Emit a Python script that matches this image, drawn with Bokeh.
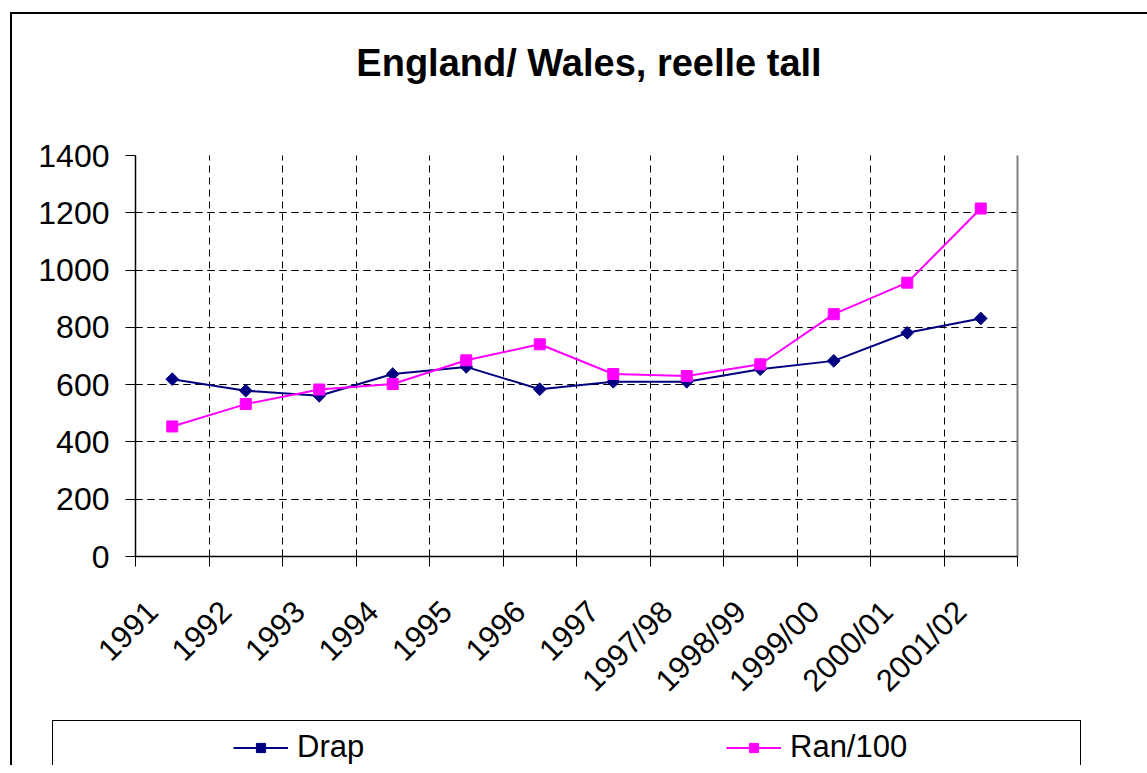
import math
from bokeh.plotting import figure
from bokeh.models import (FactorRange, Range1d, LinearAxis, FixedTicker, Grid, Legend,
                          LegendItem, ColumnDataSource, InlineStyleSheet, Label)
from bokeh.embed import file_html
from bokeh.resources import INLINE

categories = ["1991", "1992", "1993", "1994", "1995", "1996", "1997",
              "1997/98", "1998/99", "1999/00", "2000/01", "2001/02"]
drap = [619, 579, 561, 637, 662, 584, 610, 610, 654, 683, 781, 831]
ran_100 = [454, 532, 583, 602, 685, 741, 637, 630, 671, 846, 956, 1215]
y_ticks = [0, 200, 400, 600, 800, 1000, 1200, 1400]
series_names = ["Drap", "Ran/100"]
title_text = "England/ Wales, reelle tall"

FONT = "Liberation Sans"
NAVY = "#000080"
MAGENTA = "#FF00FF"
W, H = 1147, 765
PLOT_TOP, PLOT_BOTTOM, PLOT_LEFT, PLOT_RIGHT = 155, 556, 135, 1017
FRAME_LEFT = 5

# The frame covers (almost) the whole canvas so that the title, the rotated category
# labels and the legend, which lie outside the value area, are not clipped.  The axes
# are pinned to the edges of the value area with fixed_location / bounds.
n = len(categories)
y_lo, y_hi = y_ticks[0], y_ticks[-1]
px_per_unit = (PLOT_BOTTOM - PLOT_TOP) / (y_hi - y_lo)
y_start = y_lo - (H - PLOT_BOTTOM) / px_per_unit
y_end = y_hi + PLOT_TOP / px_per_unit
px_per_cat = (PLOT_RIGHT - PLOT_LEFT) / n
x_pad = (PLOT_LEFT - FRAME_LEFT) / px_per_cat

frame_css = InlineStyleSheet(css="""
:host { position: relative; }
:host::before { content: ""; position: absolute; left: 10px; top: 12px; right: 0; bottom: 0;
  border-left: 2px solid #000; border-top: 2px solid #000; z-index: 5; pointer-events: none; }
:host::after { content: ""; position: absolute; left: 52px; top: 720px; width: 1027px; bottom: 0;
  border-left: 1.5px solid #000; border-right: 1.5px solid #000; border-top: 1.5px solid #000;
  z-index: 5; pointer-events: none; }
""")

p = figure(width=W, height=H, title=None,
           x_range=FactorRange(factors=categories, range_padding=x_pad,
                               range_padding_units="absolute"),
           y_range=Range1d(y_start, y_end),
           output_backend="svg", toolbar_location=None,
           x_axis_location=None,
           min_border_left=FRAME_LEFT, min_border_right=0,
           min_border_top=0, min_border_bottom=0,
           stylesheets=[frame_css])
p.background_fill_color = "white"
p.border_fill_color = "white"
p.outline_line_color = None
for g in p.xgrid:
    g.visible = False

title = Label(x=(588.5 - FRAME_LEFT), y=(H - 62), x_units="screen", y_units="screen",
              text=title_text, text_align="center", text_baseline="alphabetic",
              text_font=FONT, text_font_style="bold", text_font_size="38px",
              text_color="black")
p.add_layout(title)

# category boundaries and label anchors in the factor range's synthetic coordinates
boundaries = list(range(n + 1))
label_pos = [i + 0.23 for i in range(n)]

x_axis = LinearAxis(ticker=FixedTicker(ticks=label_pos, minor_ticks=boundaries),
                    fixed_location=y_lo, bounds=(0, n),
                    major_label_overrides={t: c for t, c in zip(label_pos, categories)},
                    major_tick_out=0, major_tick_in=0,
                    minor_tick_out=10, minor_tick_in=0,
                    minor_tick_line_color="black", minor_tick_line_width=1,
                    axis_line_color="black", axis_line_width=1.5,
                    major_label_orientation=math.pi / 4,
                    major_label_standoff=40,
                    major_label_text_font=FONT,
                    major_label_text_font_size="31px",
                    major_label_text_color="black")
p.add_layout(x_axis, "below")

vgrid = Grid(dimension=0, ticker=FixedTicker(ticks=boundaries[1:-1]),
             cross_bounds=(y_lo, y_hi),
             grid_line_color="black", grid_line_dash="7 5", grid_line_width=1)
p.add_layout(vgrid)

# plot-area border (top and right), grey as in Excel; the top line sits a hair
# below the axis end so that the grid does not drop it as an end tick
top_edge = Grid(dimension=1, ticker=FixedTicker(ticks=[y_hi - 1e-6]),
                bounds=(y_start, y_end), cross_bounds=(0, n),
                grid_line_color="#808080", grid_line_width=2)
right_edge = Grid(dimension=0, ticker=FixedTicker(ticks=[n]), cross_bounds=(y_lo, y_hi),
                  grid_line_color="#808080", grid_line_width=2)
p.add_layout(top_edge)
p.add_layout(right_edge)

p.ygrid.ticker = FixedTicker(ticks=y_ticks[1:-1])
p.ygrid.cross_bounds = (0, n)
p.ygrid.grid_line_color = "black"
p.ygrid.grid_line_dash = "7 5"
p.ygrid.grid_line_width = 1

p.yaxis.fixed_location = 0
p.yaxis.bounds = (y_lo, y_hi)
p.yaxis.ticker = FixedTicker(ticks=y_ticks)
p.yaxis.major_tick_out = 10
p.yaxis.major_tick_in = 0
p.yaxis.minor_tick_out = 0
p.yaxis.minor_tick_in = 0
p.yaxis.axis_line_color = "black"
p.yaxis.axis_line_width = 1.5
p.yaxis.major_tick_line_color = "black"
p.yaxis.major_label_text_font = FONT
p.yaxis.major_label_text_font_size = "32px"
p.yaxis.major_label_text_color = "black"
p.yaxis.major_label_standoff = 16

src = ColumnDataSource(dict(cat=categories, drap=drap, ran=ran_100))
l1 = p.line("cat", "drap", source=src, line_color=NAVY, line_width=2)
m1 = p.scatter("cat", "drap", source=src, marker="square", angle=math.pi / 4, size=9,
               fill_color=NAVY, line_color=NAVY)
l2 = p.line("cat", "ran", source=src, line_color=MAGENTA, line_width=2)
m2 = p.scatter("cat", "ran", source=src, marker="square", size=11,
               fill_color=MAGENTA, line_color=MAGENTA)

legend = Legend(items=[LegendItem(label=series_names[0], renderers=[l1, m1]),
                       LegendItem(label=series_names[1], renderers=[l2, m2])],
                orientation="horizontal", location=(233 - FRAME_LEFT, 0),
                padding=0, margin=0, spacing=279, label_width=150,
                glyph_width=55, glyph_height=23, label_standoff=9,
                label_text_font=FONT, label_text_font_size="31px",
                label_text_color="black",
                border_line_color=None, background_fill_alpha=0)
p.add_layout(legend)

open("out.html", "w").write(file_html(p, INLINE))
